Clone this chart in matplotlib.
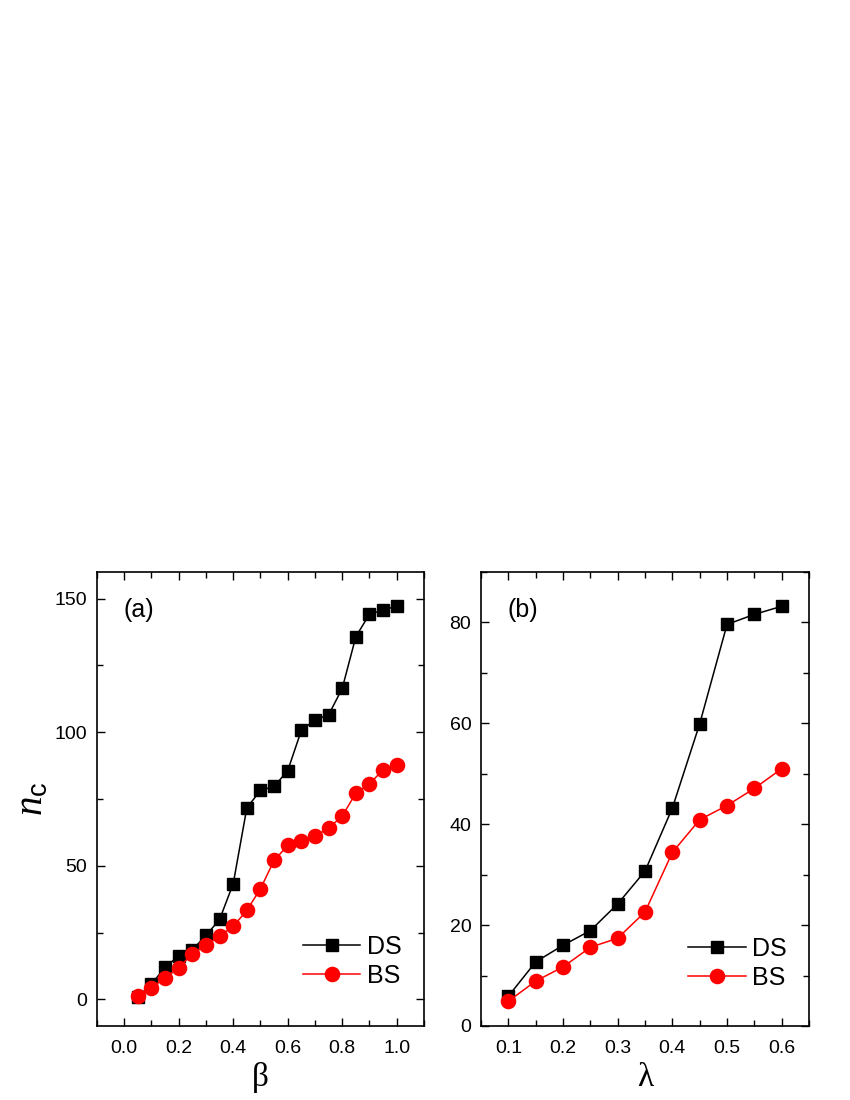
import matplotlib
matplotlib.use('Agg')
import matplotlib.pyplot as plt
from matplotlib.ticker import MultipleLocator, FormatStrFormatter

plt.rcParams['font.family'] = ['Liberation Sans', 'DejaVu Sans']
plt.rcParams['mathtext.fontset'] = 'custom'
plt.rcParams['mathtext.rm'] = 'Liberation Sans'
plt.rcParams['mathtext.it'] = 'Liberation Serif:italic'

# panel (a): beta
beta = [0.05, 0.10, 0.15, 0.20, 0.25, 0.30, 0.35, 0.40, 0.45, 0.50,
        0.55, 0.60, 0.65, 0.70, 0.75, 0.80, 0.85, 0.90, 0.95, 1.00]
ds_beta = [0.9, 5.6, 12.1, 16.2, 18.5, 23.9, 29.9, 43.3, 71.7, 78.2,
           79.7, 85.6, 100.7, 104.6, 106.5, 116.4, 135.8, 144.2, 145.7, 147.3]
bs_beta = [1.1, 4.2, 8.1, 11.7, 17.1, 20.2, 23.7, 27.3, 33.3, 41.4,
           52.0, 57.6, 59.2, 61.1, 64.1, 68.6, 77.2, 80.7, 85.9, 87.9]

# panel (b): lambda
lam = [0.10, 0.15, 0.20, 0.25, 0.30, 0.35, 0.40, 0.45, 0.50, 0.55, 0.60]
ds_lam = [5.9, 12.7, 16.0, 18.9, 24.2, 30.7, 43.2, 59.9, 79.6, 81.6, 83.2]
bs_lam = [4.9, 8.9, 11.7, 15.6, 17.4, 22.6, 34.4, 40.9, 43.7, 47.1, 51.0]


def style_axes(ax):
    for sp in ax.spines.values():
        sp.set_linewidth(1.2)
    ax.tick_params(which='both', direction='in', top=True, right=True,
                   labelsize=14, width=1.0)
    ax.tick_params(which='major', length=6)
    ax.tick_params(which='minor', length=4)
    ax.tick_params(axis='y', which='major', pad=7)
    ax.tick_params(axis='x', which='major', pad=10)


fig = plt.figure(figsize=(8.5, 11), dpi=100)
ax1 = fig.add_axes([0.1141, 0.0673, 0.3847, 0.4127])
ax2 = fig.add_axes([0.5659, 0.0673, 0.3859, 0.4127])

sq = dict(color='black', marker='s', markersize=8.6, linewidth=1.1)
ci = dict(color='red', marker='o', markersize=10.2, linewidth=1.1)

ax1.plot(beta, ds_beta, label='DS', **sq)
ax1.plot(beta, bs_beta, label='BS', **ci)
ax1.set_xlim(-0.1, 1.1)
ax1.set_ylim(-10, 160)
ax1.xaxis.set_major_locator(MultipleLocator(0.2))
ax1.xaxis.set_minor_locator(MultipleLocator(0.1))
ax1.yaxis.set_major_locator(MultipleLocator(50))
ax1.yaxis.set_minor_locator(MultipleLocator(25))
ax1.xaxis.set_major_formatter(FormatStrFormatter('%.1f'))
style_axes(ax1)
ax1.set_xlabel('β', fontsize=24, family=['Liberation Serif', 'DejaVu Serif'], labelpad=4)
ax1.set_ylabel(r'$n_\mathrm{c}$', fontsize=28, labelpad=3)
ax1.text(0.08, 0.916, '(a)', transform=ax1.transAxes, fontsize=18, va='center')
ax1.legend(loc='lower right', bbox_to_anchor=(1.0, 0.035), frameon=False,
           fontsize=18, handlelength=2.3, handletextpad=0.25, labelspacing=0.2)

ax2.plot(lam, ds_lam, label='DS', **sq)
ax2.plot(lam, bs_lam, label='BS', **ci)
ax2.set_xlim(0.05, 0.65)
ax2.set_ylim(0, 90)
ax2.xaxis.set_major_locator(MultipleLocator(0.1))
ax2.xaxis.set_minor_locator(MultipleLocator(0.05))
ax2.yaxis.set_major_locator(MultipleLocator(20))
ax2.yaxis.set_minor_locator(MultipleLocator(10))
style_axes(ax2)
ax2.set_xlabel('λ', fontsize=24, family=['Liberation Serif', 'DejaVu Serif'], labelpad=4)
ax2.text(0.082, 0.916, '(b)', transform=ax2.transAxes, fontsize=18, va='center')
ax2.legend(loc='lower right', bbox_to_anchor=(1.0, 0.03), frameon=False,
           fontsize=18, handlelength=2.3, handletextpad=0.25, labelspacing=0.2)

fig.savefig('out.png', dpi=100)
